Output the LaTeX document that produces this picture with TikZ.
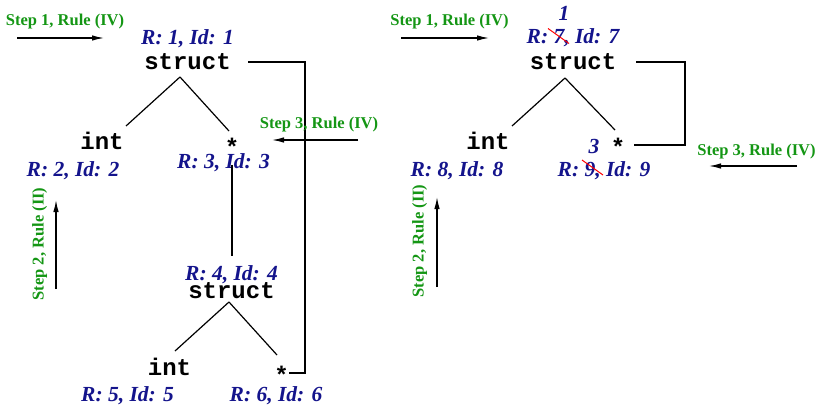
\documentclass[tikz,border=0pt]{standalone}
\usepackage{fontspec}
\setmainfont{Liberation Serif}
\newfontfamily\codefont{Liberation Mono}
\usetikzlibrary{arrows.meta}
\definecolor{labelblue}{RGB}{20,20,140}
\definecolor{stepgreen}{RGB}{20,150,20}
\tikzset{
  code/.style={font=\codefont\bfseries\fontsize{24}{24}\selectfont, inner sep=0pt, anchor=base},
  tag/.style={font=\bfseries\itshape\fontsize{21.5}{21.5}\selectfont, text=labelblue, inner sep=0pt, anchor=base},
  steplabel/.style={font=\bfseries\fontsize{16.5}{16.5}\selectfont, text=stepgreen, inner sep=0pt, anchor=base},
  edge/.style={line width=1.2pt},
  link/.style={line width=1.3pt},
  steparrow/.style={line width=1.3pt, -{Latex[length=12pt,width=5.5pt]}},
  strike/.style={red, line width=1pt}
}
\begin{document}
\begin{tikzpicture}[x=1pt,y=-1pt]
\useasboundingbox (0,0) rectangle (818,404);

% ---------- left tree ----------
\node[steplabel] (l-step1) at (65,26) {Step 1, Rule (IV)};
\coordinate (l-step1-tail) at (17,38);
\coordinate (l-step1-head) at (104,38);
\draw[steparrow] (l-step1-tail) -- (l-step1-head);

\node[tag]  (l-tag1) at (187.5,44.5) {R: 1, Id: 1};
\node[code] (l-struct1) at (187.5,70) {struct};
\node[code] (l-int1) at (102,149) {int};
\node[tag]  (l-tag2) at (73,176) {R: 2, Id: 2};
\node[code] (l-ptr1) at (232,155) {*};
\node[tag]  (l-tag3) at (223.5,168) {R: 3, Id: 3};

\node[tag]  (l-tag4) at (231.5,280) {R: 4, Id: 4};
\node[code] (l-struct2) at (231.5,298) {struct};
\node[code] (l-int2) at (169.5,375) {int};
\node[tag]  (l-tag5) at (127.5,401) {R: 5, Id: 5};
\node[code] (l-ptr2) at (281.5,383) {*};
\node[tag]  (l-tag6) at (276,401) {R: 6, Id: 6};

\coordinate (l-s1-foot) at (180,77);
\coordinate (l-int1-top) at (126,126);
\coordinate (l-ptr1-top) at (229,131);
\coordinate (l-ptr1-foot) at (232,165);
\coordinate (l-s2-head) at (232,256);
\coordinate (l-s2-foot) at (229,302);
\coordinate (l-int2-top) at (175,351);
\coordinate (l-ptr2-top) at (277,355);
\coordinate (l-s1-out) at (248,62);
\coordinate (l-back) at (305,62);
\coordinate (l-ptr2-in) at (289,373);

\draw[edge] (l-s1-foot) -- (l-int1-top);
\draw[edge] (l-s1-foot) -- (l-ptr1-top);
\draw[edge] (l-ptr1-foot) -- (l-s2-head);
\draw[edge] (l-s2-foot) -- (l-int2-top);
\draw[edge] (l-s2-foot) -- (l-ptr2-top);
\draw[link] (l-s1-out) -- (l-back) |- (l-ptr2-in);

\node[steplabel] (l-step3) at (319,128) {Step 3, Rule (IV)};
\coordinate (l-step3-tail) at (358,140);
\coordinate (l-step3-head) at (272,140);
\draw[steparrow] (l-step3-tail) -- (l-step3-head);

\node[steplabel, rotate=90] (l-step2) at (43.5,244) {Step 2, Rule (II)};
\coordinate (l-step2-tail) at (56,289);
\coordinate (l-step2-head) at (56,200);
\draw[steparrow] (l-step2-tail) -- (l-step2-head);

% ---------- right tree ----------
\node[steplabel] (r-step1) at (449.5,26) {Step 1, Rule (IV)};
\coordinate (r-step1-tail) at (401,38);
\coordinate (r-step1-head) at (489,38);
\draw[steparrow] (r-step1-tail) -- (r-step1-head);

\node[tag]  (r-new1) at (564,21) {1};
\node[tag]  (r-tag7) at (573,44) {R: 7, Id: 7};
\node[code] (r-struct) at (573,69) {struct};
\node[code] (r-int) at (488,149) {int};
\node[tag]  (r-tag8) at (457,176) {R: 8, Id: 8};
\node[tag]  (r-new3) at (594,153) {3};
\node[code] (r-ptr) at (618,155) {*};
\node[tag]  (r-tag9) at (604,176) {R: 9, Id: 9};

\draw[strike] (548,28.5) -- (569,43.5);
\draw[strike] (582,160) -- (603,175);

\coordinate (r-s-foot) at (565,78);
\coordinate (r-int-top) at (512,126);
\coordinate (r-ptr-top) at (615,130);
\coordinate (r-s-out) at (636,62);
\coordinate (r-back) at (685,62);
\coordinate (r-ptr-in) at (634,145);

\draw[edge] (r-s-foot) -- (r-int-top);
\draw[edge] (r-s-foot) -- (r-ptr-top);
\draw[link] (r-s-out) -- (r-back) |- (r-ptr-in);

\node[steplabel] (r-step3) at (756.5,155) {Step 3, Rule (IV)};
\coordinate (r-step3-tail) at (797,166);
\coordinate (r-step3-head) at (709,166);
\draw[steparrow] (r-step3-tail) -- (r-step3-head);

\node[steplabel, rotate=90] (r-step2) at (423.5,241) {Step 2, Rule (II)};
\coordinate (r-step2-tail) at (437,287);
\coordinate (r-step2-head) at (437,197);
\draw[steparrow] (r-step2-tail) -- (r-step2-head);
\end{tikzpicture}
\end{document}
